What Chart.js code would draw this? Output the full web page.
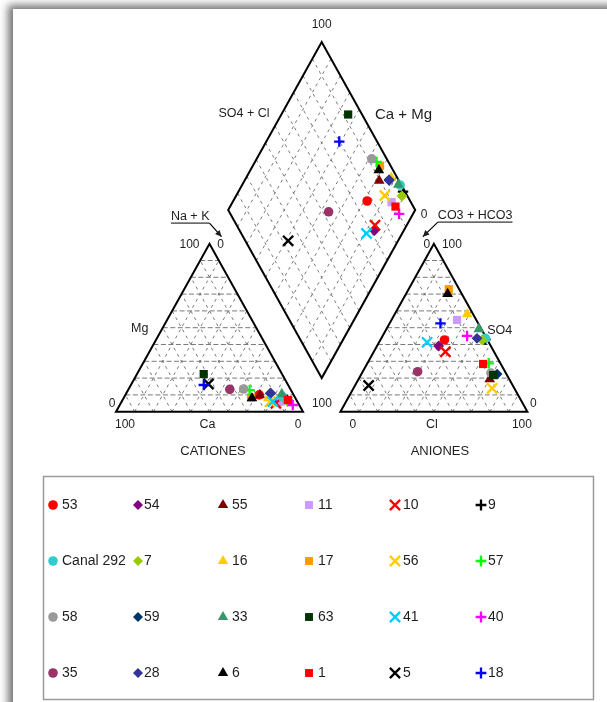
<!DOCTYPE html>
<html>
<head>
<meta charset="utf-8">
<script src="https://cdn.jsdelivr.net/npm/chart.js@4/dist/chart.umd.min.js"></script>
<style>
  html, body { margin: 0; padding: 0; background: #fff; overflow: hidden; width: 607px; height: 702px; }
  #sheet { position: absolute; left: 13px; top: 9px; width: 720px; height: 820px; background: #fff;
           box-shadow: -5px -4px 8px rgba(0,0,0,0.55); }
  #piper { position: absolute; left: 0; top: 0; }
</style>
</head>
<body>
<div id="sheet"></div>
<canvas id="piper" width="607" height="702"></canvas>
<script>
// Sample names, in legend order (row by row)
const samples = ['53', '54', '55', '11', '10', '9',
                 'Canal 292', '7', '16', '17', '56', '57',
                 '58', '59', '33', '63', '41', '40',
                 '35', '28', '6', '1', '5', '18'];

// Cations (% meq): Mg and Na + K  (Ca = 100 - Mg - NaK)
const mgPct  = [10, 6, 9.9, 6, 5, 7,
                8.9, 6, 8, 8.5, 6, 12.9,
                13.5, 11, 10.5, 22.4, 6, 4,
                13.3, 11, 8, 7, 16.5, 15.9];
const nakPct = [71.6, 84.3, 72, 85, 83, 88,
                84.5, 88.7, 77.5, 68, 79.4, 65,
                61.5, 77, 83.4, 35.7, 80.9, 92.5,
                54.2, 77.3, 68.7, 88.4, 41.2, 39];

// Anions (% meq): SO4 and Cl  (HCO3 + CO3 = 100 - SO4 - Cl)
const so4Pct = [42.7, 39.1, 19.3, 54.6, 35.7, 43,
                43.7, 42.7, 58, 72.9, 13.9, 28.8,
                23, 22.4, 49.2, 21.8, 41.3, 45.1,
                23.8, 43.7, 70.1, 28.4, 15.6, 52.6];
const clPct  = [34.3, 33, 70.2, 35.1, 38.3, 56,
                55.7, 54.4, 38.8, 21.5, 74.2, 64.9,
                69, 72.6, 49.4, 70.8, 25.7, 45.2,
                29.4, 51.2, 22.3, 62.1, 7.3, 27.2];

// Corner tick labels
const tickLabels = ['0', '100'];

// Marker look per legend column, colour per sample
const columnStyles = ['circle', 'rectRot', 'triangle', 'rect', 'crossRot', 'cross'];
const colors = ['#ff0000', '#800080', '#800000', '#cc99ff', '#ff0000', '#000000',
                '#33cccc', '#99cc00', '#ffcc00', '#ff9900', '#ffcc00', '#00ff00',
                '#999999', '#003366', '#339966', '#003300', '#00ccff', '#ff00ff',
                '#993366', '#333399', '#000000', '#ff0000', '#000000', '#0000ff'];
const plotRadius   = { circle: 4.8, rectRot: 5.4, triangle: 6.2, rect: 5.8, crossRot: 7.2, cross: 5.2 };
const legendRadius = { circle: 4.8, rectRot: 5.0, triangle: 6.0, rect: 5.6, crossRot: 7.2, cross: 5.4 };

// Piper geometry in axis units: triangle side 100, gap 20 between triangles
const H = 50 * Math.sqrt(3);
const GAP = 20;
function cat(mg, nak) { return { x: nak + mg / 2, y: mg * H / 100 }; }
function ani(so4, cl) { return { x: 100 + GAP + cl + so4 / 2, y: so4 * H / 100 }; }
function dia(nak, so4cl) {
  const s = (100 - nak) / 100, r = so4cl / 100;
  return { x: 100 + GAP / 2 - 50 * s + 50 * r, y: GAP * H / 100 + H * (s + r) };
}

// Scale extents: where the unit system sits on the canvas
const W = 607, HT = 702;
const ORIGIN_PX = 116, BASE_PX = 411.7, KX = 1.87, KY = 1.94;

const datasets = samples.map((name, i) => {
  const style = columnStyles[i % 6];
  const cross = style === 'cross' || style === 'crossRot';
  return {
    label: name,
    data: [
      cat(mgPct[i], nakPct[i]),
      ani(so4Pct[i], clPct[i]),
      dia(nakPct[i], so4Pct[i] + clPct[i])
    ],
    pointStyle: style,
    pointRadius: plotRadius[style],
    pointHoverRadius: plotRadius[style],
    backgroundColor: colors[i],
    borderColor: colors[i],
    borderWidth: cross ? 2.3 : 0,
    order: samples.length - i
  };
});

const FONT = "'Liberation Sans', Arial, Helvetica, sans-serif";
const INK = '#1e1e1e';

const piperFrame = {
  id: 'piperFrame',
  beforeDatasetsDraw(chart) {
    const ctx = chart.ctx, xs = chart.scales.x, ys = chart.scales.y;
    const P = (pt) => [xs.getPixelForValue(pt.x), ys.getPixelForValue(pt.y)];
    const seg = (a, b, dash) => {
      const p = P(a), q = P(b);
      ctx.setLineDash(dash);
      ctx.beginPath(); ctx.moveTo(p[0], p[1]); ctx.lineTo(q[0], q[1]); ctx.stroke();
    };
    ctx.save();
    // dashed 10 % grid
    ctx.strokeStyle = '#6a6a6a';
    ctx.lineWidth = 0.9;
    const DH = [5, 2.5], DD = [3, 4];
    for (let k = 1; k <= 9; k++) {
      const f = k * 10;
      seg(cat(f, 0), cat(f, 100 - f), DH);
      seg(cat(0, f), cat(100 - f, f), DD);
      seg(cat(0, 100 - f), cat(100 - f, 0), DD);
      seg(ani(f, 0), ani(f, 100 - f), DH);
      seg(ani(0, f), ani(100 - f, f), DD);
      seg(ani(0, 100 - f), ani(100 - f, 0), DD);
      seg(dia(100 - f, 0), dia(100 - f, 100), DD);
      seg(dia(0, f), dia(100, f), DD);
    }
    // outlines
    ctx.setLineDash([]);
    ctx.strokeStyle = '#000';
    ctx.lineWidth = 2;
    ctx.lineJoin = 'miter';
    const poly = (pts) => {
      ctx.beginPath();
      pts.map(P).forEach((p, j) => j ? ctx.lineTo(p[0], p[1]) : ctx.moveTo(p[0], p[1]));
      ctx.closePath(); ctx.stroke();
    };
    poly([cat(0, 0), cat(0, 100), cat(100, 0)]);
    poly([ani(0, 0), ani(0, 100), ani(100, 0)]);
    poly([dia(100, 0), dia(0, 0), dia(0, 100), dia(100, 100)]);

    // labels
    const cBL = P(cat(0, 0)), cBR = P(cat(0, 100)), cA = P(cat(100, 0));
    const aBL = P(ani(0, 0)), aBR = P(ani(0, 100)), aA = P(ani(100, 0));
    const dT = P(dia(0, 100)), dL = P(dia(0, 0)), dR = P(dia(100, 100));
    const cMid = (cBL[0] + cBR[0]) / 2, aMid = (aBL[0] + aBR[0]) / 2;
    ctx.fillStyle = INK;
    ctx.textBaseline = 'middle';
    const txt = (s, x, y, size, align) => {
      ctx.font = size + 'px ' + FONT;
      ctx.textAlign = align || 'center';
      ctx.fillText(s, x, y);
    };
    const [lo, hi] = tickLabels;
    txt(hi, dT[0], dT[1] - 17, 12);
    txt('SO4 + Cl', (dT[0] + dL[0]) / 2 - 31, (dT[1] + dL[1]) / 2 - 13, 12.5);
    txt('Ca + Mg', (dT[0] + dR[0]) / 2 + 35, (dT[1] + dR[1]) / 2 - 11, 15);
    txt(lo, dR[0] + 9, dR[1] + 5, 12);

    txt(hi, cA[0] - 20, cA[1] + 1, 12);
    txt(lo, cA[0] + 11, cA[1] + 1, 12);
    txt('Mg', (cBL[0] + cA[0]) / 2 - 23, (cBL[1] + cA[1]) / 2 + 1, 12.5);
    txt(lo, cBL[0] - 4, cBL[1] - 8, 12);
    txt(hi, cBL[0] + 9, cBL[1] + 12.5, 12);
    txt('Ca', cMid - 2, cBL[1] + 12.5, 12.5);
    txt(lo, cBR[0] - 5, cBR[1] + 12.5, 12);
    txt('CATIONES', cMid + 3.5, cBL[1] + 40, 13);

    txt(hi, aBL[0] - 18.5, aBL[1] - 8, 12);
    txt(lo, aBR[0] + 6, aBR[1] - 8, 12);
    txt(lo, aA[0] - 7, aA[1] + 1, 12);
    txt(hi, aA[0] + 18, aA[1] + 1, 12);
    txt('SO4', (aBR[0] + aA[0]) / 2 + 19, (aBR[1] + aA[1]) / 2 + 3, 12.5);
    txt(lo, aBL[0] + 12.5, aBL[1] + 12.5, 12);
    txt('Cl', aMid - 2, aBL[1] + 12.5, 12.5);
    txt(hi, aBR[0] - 5.5, aBR[1] + 12.5, 12);
    txt('ANIONES', aMid + 6, aBL[1] + 39.5, 13);

    // underlined axis names with arrows pointing at the diamond
    const arrow = (x1, y1, x2, y2) => {
      ctx.lineWidth = 1.2;
      ctx.beginPath(); ctx.moveTo(x1, y1); ctx.lineTo(x2, y2); ctx.stroke();
      const a = Math.atan2(y2 - y1, x2 - x1), L = 7, w = 0.45;
      ctx.beginPath();
      ctx.moveTo(x2, y2);
      ctx.lineTo(x2 - L * Math.cos(a - w), y2 - L * Math.sin(a - w));
      ctx.lineTo(x2 - L * Math.cos(a + w), y2 - L * Math.sin(a + w));
      ctx.closePath(); ctx.fill();
    };
    const under = (s, x, y, size, side) => {
      ctx.font = size + 'px ' + FONT;
      const w = ctx.measureText(s).width;
      txt(s, x, y, size);
      ctx.lineWidth = 1;
      ctx.beginPath(); ctx.moveTo(x - w / 2, y + 7); ctx.lineTo(x + w / 2, y + 7); ctx.stroke();
      return side < 0 ? x - w / 2 : x + w / 2;
    };
    let ex = under('Na + K', dL[0] - 38, dL[1] + 6, 12.5, 1);
    arrow(ex, dL[1] + 13, cA[0] + 12, cA[1] - 7);
    ex = under('CO3 + HCO3', dR[0] + 60, dR[1] + 5, 12.5, -1);
    arrow(ex, dR[1] + 12, aA[0] - 11, aA[1] - 7);
    ctx.restore();
  },
  afterDraw(chart) {
    // legend box, six columns by four rows
    const ctx = chart.ctx;
    ctx.save();
    ctx.strokeStyle = '#9a9a9a';
    ctx.lineWidth = 1.5;
    ctx.setLineDash([]);
    ctx.strokeRect(43.5, 476.5, 550, 223);
    const mx = [53, 138, 223, 309, 395, 481];
    const tx = [62, 144, 232, 318, 403, 488];
    const ry = [505, 561, 617, 673];
    chart.data.datasets.forEach((ds, i) => {
      const r = Math.floor(i / 6), c = i % 6;
      const style = ds.pointStyle;
      ctx.fillStyle = ds.backgroundColor;
      ctx.strokeStyle = ds.borderColor;
      ctx.lineWidth = ds.borderWidth;
      Chart.helpers.drawPoint(ctx, { pointStyle: style, radius: legendRadius[style],
        borderWidth: ds.borderWidth, rotation: 0 }, mx[c], ry[r]);
      ctx.fillStyle = INK;
      ctx.font = '14px ' + FONT;
      ctx.textAlign = 'left';
      ctx.textBaseline = 'middle';
      ctx.fillText(ds.label, tx[c], ry[r] + 0.5);
    });
    ctx.restore();
  }
};

new Chart(document.getElementById('piper'), {
  type: 'scatter',
  data: { datasets },
  options: {
    responsive: false,
    animation: false,
    devicePixelRatio: 1,
    events: [],
    layout: { padding: 0, autoPadding: false },
    plugins: { legend: { display: false }, tooltip: { enabled: false } },
    scales: {
      x: { type: 'linear', display: false, bounds: 'data',
           min: -ORIGIN_PX / KX, max: (W - ORIGIN_PX) / KX },
      y: { type: 'linear', display: false, bounds: 'data',
           min: -(HT - BASE_PX) / KY, max: BASE_PX / KY }
    }
  },
  plugins: [piperFrame]
});
</script>
</body>
</html>
